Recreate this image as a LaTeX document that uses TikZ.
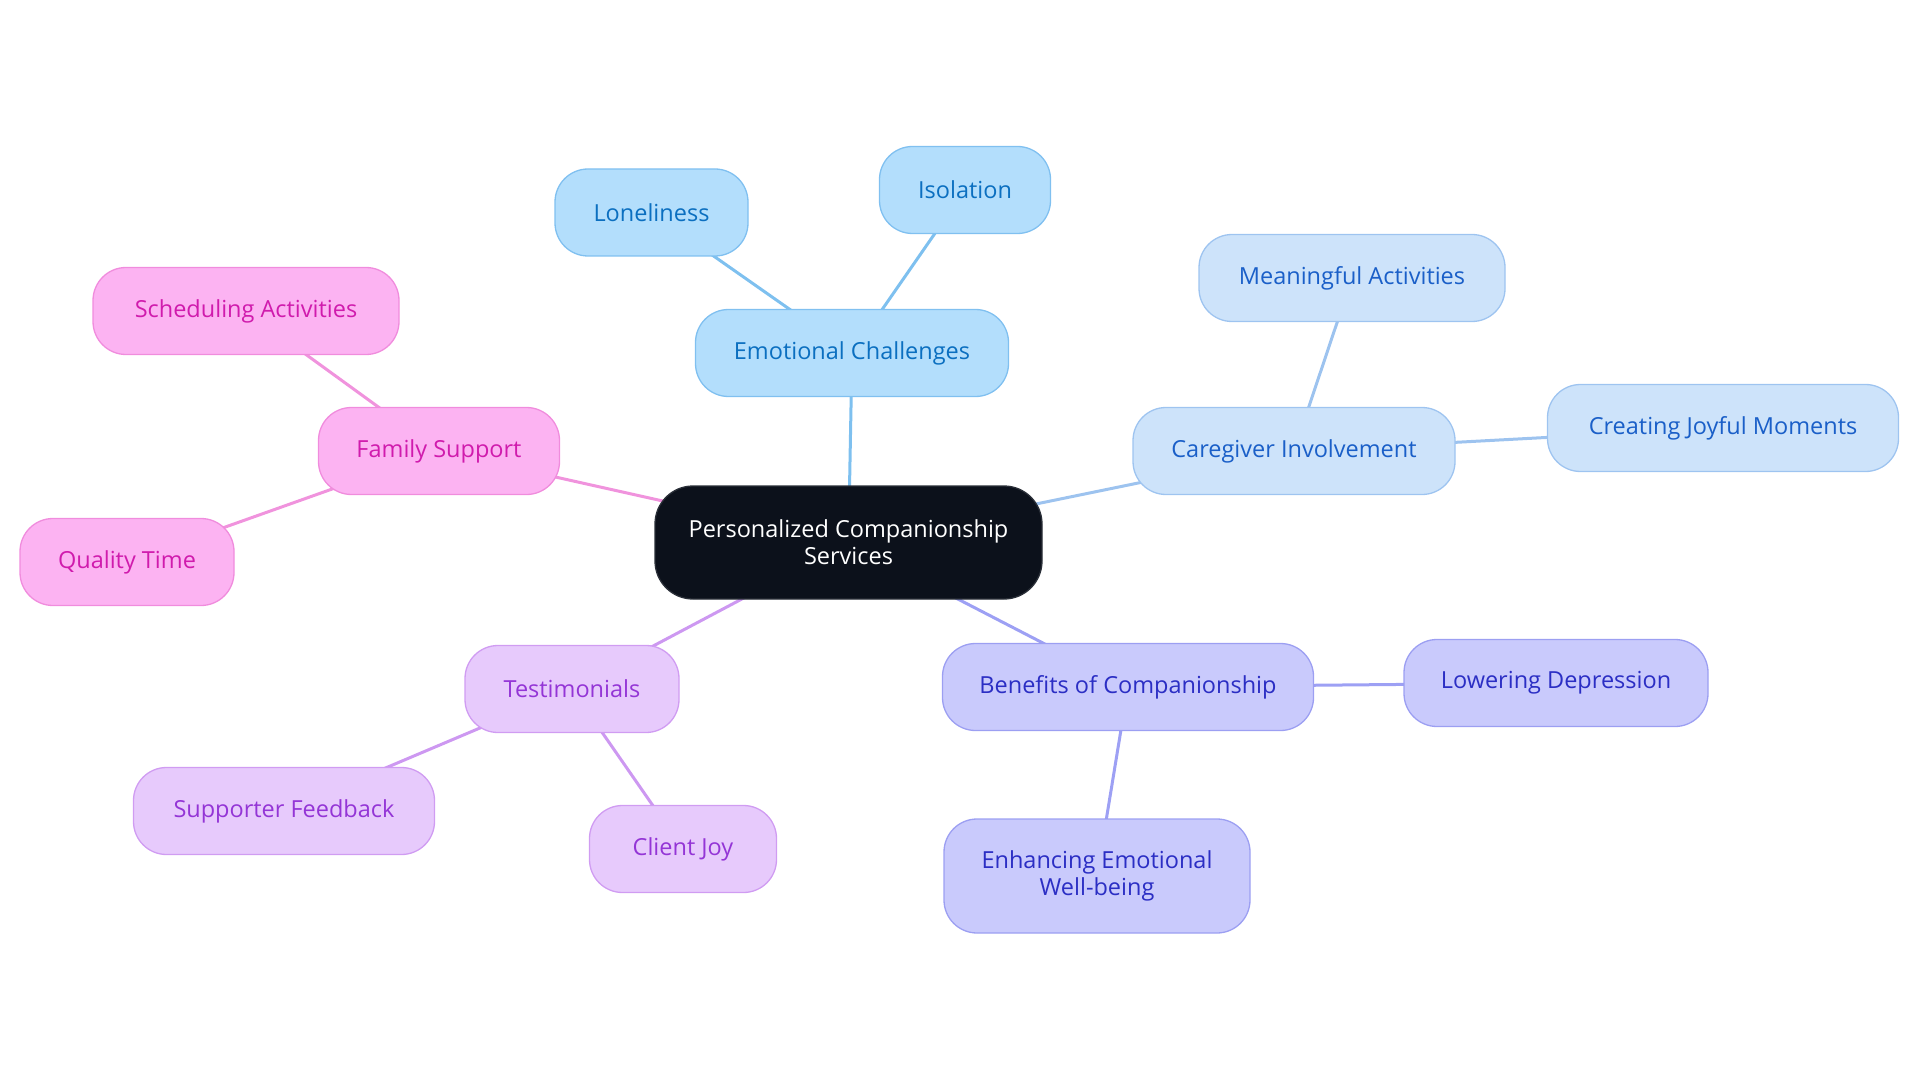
\documentclass[tikz,border=0pt]{standalone}
\usepackage{fontspec}
\setmainfont{Open Sans}
\usetikzlibrary{backgrounds}
\definecolor{bAfill}{HTML}{B3DEFC}\definecolor{bAdraw}{HTML}{80C0F0}\definecolor{bAtext}{HTML}{0B6FC0}\definecolor{bAedge}{HTML}{7EC0EF}
\definecolor{bBfill}{HTML}{CDE3FA}\definecolor{bBdraw}{HTML}{9EC4F0}\definecolor{bBtext}{HTML}{1A5FC8}\definecolor{bBedge}{HTML}{9DC3EF}
\definecolor{inFill}{HTML}{C9CAFC}\definecolor{inDraw}{HTML}{9C9FF2}\definecolor{inText}{HTML}{2B2EC4}\definecolor{inEdge}{HTML}{9DA0F4}
\definecolor{puFill}{HTML}{E7CAFC}\definecolor{puDraw}{HTML}{D09CF2}\definecolor{puText}{HTML}{9435D6}\definecolor{puEdge}{HTML}{CD98F1}
\definecolor{piFill}{HTML}{FCB3F2}\definecolor{piDraw}{HTML}{F08CDD}\definecolor{piText}{HTML}{D01BAD}\definecolor{piEdge}{HTML}{F093DD}
\definecolor{ctFill}{HTML}{0C111B}\definecolor{ctDraw}{HTML}{2A2F38}
\begin{document}
\begin{tikzpicture}[x=1pt,y=-1pt,
  pill/.style={rectangle, rounded corners=33pt, line width=1.3pt, minimum height=87pt,
    align=center, inner sep=0pt, font=\fontsize{23.5}{27}\selectfont},
  bA/.style={pill, fill=bAfill, draw=bAdraw, text=bAtext},
  bB/.style={pill, fill=bBfill, draw=bBdraw, text=bBtext},
  inB/.style={pill, fill=inFill, draw=inDraw, text=inText},
  puB/.style={pill, fill=puFill, draw=puDraw, text=puText},
  piB/.style={pill, fill=piFill, draw=piDraw, text=piText},
  ctB/.style={pill, fill=ctFill, draw=ctDraw, text=white, rounded corners=38pt},
  link/.style={line width=3pt}
]
\useasboundingbox (0,0) rectangle (1920,1083);
\node[ctB, minimum width=387pt, minimum height=113pt] (c) at (848.5,542.5) {Personalized Companionship\\Services};

\node[bA, minimum width=313pt] (ec) at (852,353) {Emotional Challenges};
\node[bA, minimum width=193pt] (lo) at (651.5,212.5) {Loneliness};
\node[bA, minimum width=171pt] (is) at (965,190) {Isolation};

\node[bB, minimum width=322pt] (cg) at (1294,451) {Caregiver Involvement};
\node[bB, minimum width=306pt] (ma) at (1352,278) {Meaningful Activities};
\node[bB, minimum width=351pt] (cj) at (1723,428) {Creating Joyful Moments};

\node[inB, minimum width=371pt] (bc) at (1128,687) {Benefits of Companionship};
\node[inB, minimum width=304pt] (ld) at (1556,683) {Lowering Depression};
\node[inB, minimum width=306pt, minimum height=114pt] (ee) at (1097,876) {Enhancing Emotional\\Well-being};

\node[puB, minimum width=214pt] (te) at (572,689) {Testimonials};
\node[puB, minimum width=301pt] (sf) at (284,811) {Supporter Feedback};
\node[puB, minimum width=187pt] (cl) at (683,849) {Client Joy};

\node[piB, minimum width=241pt] (fs) at (439,451) {Family Support};
\node[piB, minimum width=306pt] (sa) at (246,311) {Scheduling Activities};
\node[piB, minimum width=214pt] (qt) at (127,562) {Quality Time};

\begin{scope}[on background layer]
  \draw[link, bAedge] (c.center) -- (ec.center);
  \draw[link, bAedge] (ec.center) -- (lo.center);
  \draw[link, bAedge] (ec.center) -- (is.center);
  \draw[link, bBedge] (c.center) -- (cg.center);
  \draw[link, bBedge] (cg.center) -- (ma.center);
  \draw[link, bBedge] (cg.center) -- (cj.center);
  \draw[link, inEdge] (c.center) -- (bc.center);
  \draw[link, inEdge] (bc.center) -- (ld.center);
  \draw[link, inEdge] (bc.center) -- (ee.center);
  \draw[link, puEdge] (c.center) -- (te.center);
  \draw[link, puEdge] (te.center) -- (sf.center);
  \draw[link, puEdge] (te.center) -- (cl.center);
  \draw[link, piEdge] (c.center) -- (fs.center);
  \draw[link, piEdge] (fs.center) -- (sa.center);
  \draw[link, piEdge] (fs.center) -- (qt.center);
\end{scope}
\end{tikzpicture}
\end{document}
